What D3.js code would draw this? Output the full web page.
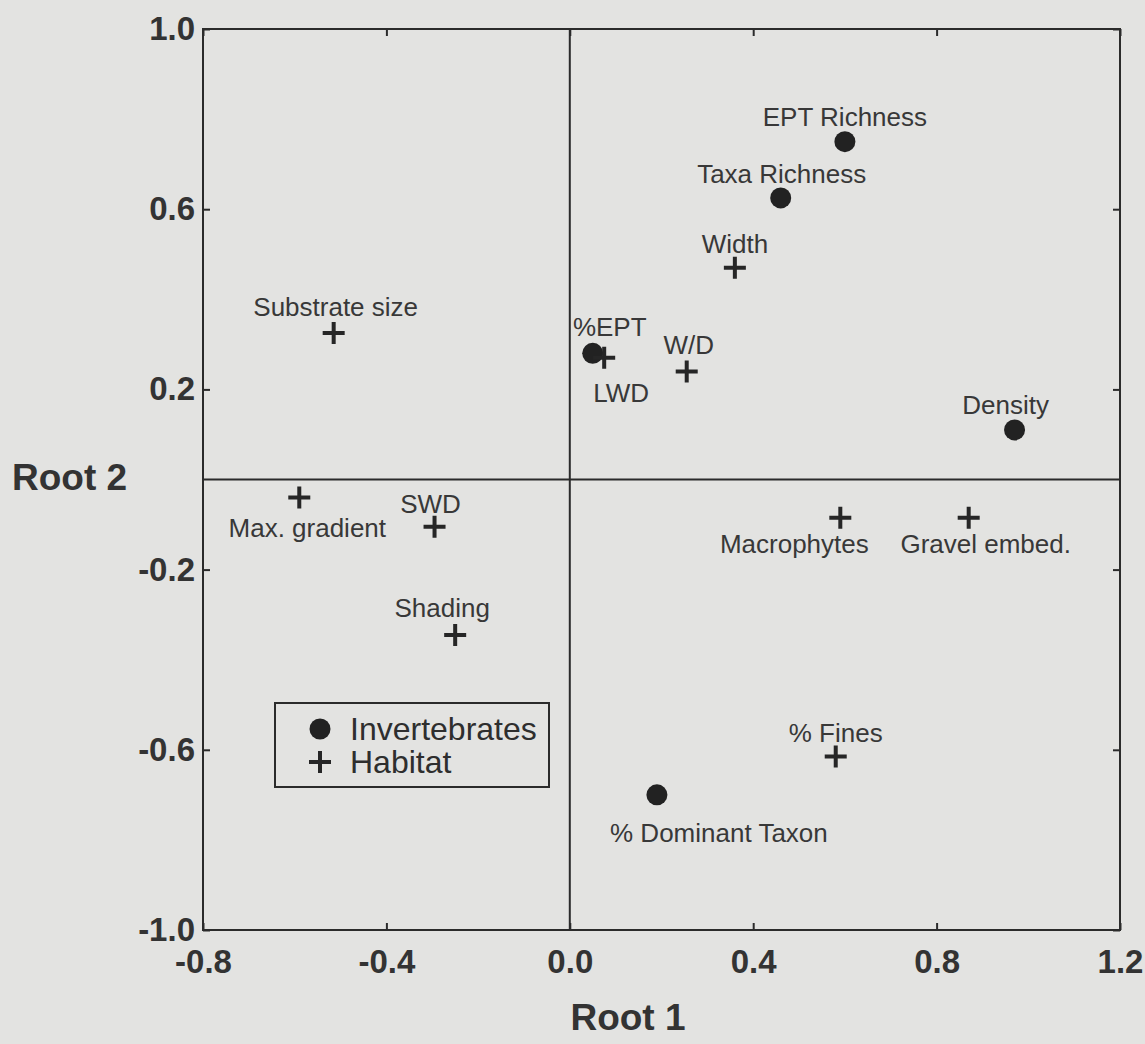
<!DOCTYPE html>
<html>
<head>
<meta charset="utf-8">
<script src="https://cdn.jsdelivr.net/npm/d3@7"></script>
<style>
  body { margin: 0; background: #e3e3e1; }
  svg { display: block; font-family: "Liberation Sans", Arial, sans-serif; }
</style>
</head>
<body>
<svg></svg>
<script>
// discriminant roots
const invertNames = ['EPT Richness', 'Taxa Richness', '%EPT', 'Density', '% Dominant Taxon'];
const invertRoot1 = [0.60, 0.46, 0.05, 0.97, 0.19];
const invertRoot2 = [0.75, 0.625, 0.28, 0.11, -0.70];

const habitatNames = ['Width', 'Substrate size', 'LWD', 'W/D', 'Max. gradient', 'SWD', 'Shading', 'Macrophytes', 'Gravel embed.', '% Fines'];
const habitatRoot1 = [0.36, -0.515, 0.075, 0.255, -0.59, -0.295, -0.25, 0.59, 0.87, 0.58];
const habitatRoot2 = [0.47, 0.325, 0.27, 0.24, -0.04, -0.105, -0.345, -0.085, -0.085, -0.615];

const xTicks = [-0.8, -0.4, 0.0, 0.4, 0.8, 1.2];
const yTicks = [-1.0, -0.6, -0.2, 0.2, 0.6, 1.0];

// label placement in pixels relative to the marker (text centre, baseline)
const labelOffsets = {
  'EPT Richness': [0, -16],
  'Taxa Richness': [1, -15],
  '%EPT': [17, -17],
  'Density': [-9, -16],
  '% Dominant Taxon': [62, 47],
  'Width': [0, -15],
  'Substrate size': [2, -17],
  'LWD': [17, 44],
  'W/D': [2, -17],
  'Max. gradient': [8, 39],
  'SWD': [-4, -14],
  'Shading': [-13, -18],
  'Macrophytes': [-46, 35],
  'Gravel embed.': [17, 35],
  '% Fines': [0, -15]
};

const width = 1145, height = 1044;
const plot = { left: 203, right: 1120, top: 29, bottom: 930 };
const ink = '#2b2b2b';

const svg = d3.select('svg')
    .attr('width', width)
    .attr('height', height);

const x = d3.scaleLinear().domain([-0.8, 1.2]).range([plot.left, plot.right]);
const y = d3.scaleLinear().domain([-1, 1]).range([plot.bottom, plot.top]);

const fmt = d => d.toFixed(1);

// axes with inner ticks
const styleAxis = g => {
  g.select('.domain').remove();
  g.selectAll('line').attr('stroke', ink).attr('stroke-width', 2);
  g.selectAll('text').attr('fill', '#333').attr('font-size', 33).attr('font-weight', 'bold');
};

svg.append('g')
    .attr('transform', `translate(0,${plot.bottom})`)
    .call(d3.axisBottom(x).tickValues(xTicks).tickSize(-7).tickPadding(20).tickFormat(fmt))
    .call(styleAxis);

svg.append('g')
    .attr('transform', `translate(0,${plot.top})`)
    .call(d3.axisTop(x).tickValues(xTicks).tickSize(-7).tickFormat(''))
    .call(styleAxis);

svg.append('g')
    .attr('transform', `translate(${plot.left},0)`)
    .call(d3.axisLeft(y).tickValues(yTicks).tickSize(-7).tickPadding(8).tickFormat(fmt))
    .call(styleAxis);

svg.append('g')
    .attr('transform', `translate(${plot.right},0)`)
    .call(d3.axisRight(y).tickValues(yTicks).tickSize(-7).tickFormat(''))
    .call(styleAxis);

// frame
svg.append('rect')
    .attr('x', plot.left).attr('y', plot.top)
    .attr('width', plot.right - plot.left).attr('height', plot.bottom - plot.top)
    .attr('fill', 'none').attr('stroke', ink).attr('stroke-width', 2);

// zero lines
svg.append('line')
    .attr('x1', x(0)).attr('x2', x(0)).attr('y1', plot.top).attr('y2', plot.bottom)
    .attr('stroke', ink).attr('stroke-width', 2);
svg.append('line')
    .attr('x1', plot.left).attr('x2', plot.right).attr('y1', y(0)).attr('y2', y(0))
    .attr('stroke', ink).attr('stroke-width', 2);

// axis titles
svg.append('text')
    .attr('x', 628).attr('y', 1030)
    .attr('text-anchor', 'middle')
    .attr('font-size', 37).attr('font-weight', 'bold').attr('fill', '#333')
    .text('Root 1');
svg.append('text')
    .attr('x', 12).attr('y', 490)
    .attr('font-size', 37).attr('font-weight', 'bold').attr('fill', '#333')
    .text('Root 2');

const plusPath = (cx, cy, s) => `M${cx - s / 2},${cy}H${cx + s / 2}M${cx},${cy - s / 2}V${cy + s / 2}`;

const invert = invertNames.map((n, i) => ({ name: n, r1: invertRoot1[i], r2: invertRoot2[i] }));
const habitat = habitatNames.map((n, i) => ({ name: n, r1: habitatRoot1[i], r2: habitatRoot2[i] }));

svg.append('g').selectAll('circle')
  .data(invert)
  .join('circle')
    .attr('cx', d => x(d.r1))
    .attr('cy', d => y(d.r2))
    .attr('r', 10.5)
    .attr('fill', '#222');

svg.append('g').selectAll('path')
  .data(habitat)
  .join('path')
    .attr('d', d => plusPath(x(d.r1), y(d.r2), 22))
    .attr('stroke', '#262626')
    .attr('stroke-width', 4)
    .attr('fill', 'none');

svg.append('g').selectAll('text')
  .data(invert.concat(habitat))
  .join('text')
    .attr('x', d => x(d.r1) + labelOffsets[d.name][0])
    .attr('y', d => y(d.r2) + labelOffsets[d.name][1])
    .attr('text-anchor', 'middle')
    .attr('font-size', 26)
    .attr('fill', '#383838')
    .text(d => d.name);

// legend
const legend = svg.append('g');
legend.append('rect')
    .attr('x', 275).attr('y', 703).attr('width', 274).attr('height', 84)
    .attr('fill', 'none').attr('stroke', ink).attr('stroke-width', 2);
legend.append('circle').attr('cx', 320).attr('cy', 729).attr('r', 10.5).attr('fill', '#222');
legend.append('path').attr('d', plusPath(320, 762, 22)).attr('stroke', '#262626').attr('stroke-width', 4);
legend.append('text').attr('x', 350).attr('y', 740).attr('font-size', 32).attr('fill', '#2e2e2e').text('Invertebrates');
legend.append('text').attr('x', 350).attr('y', 773).attr('font-size', 32).attr('fill', '#2e2e2e').text('Habitat');
</script>
</body>
</html>
